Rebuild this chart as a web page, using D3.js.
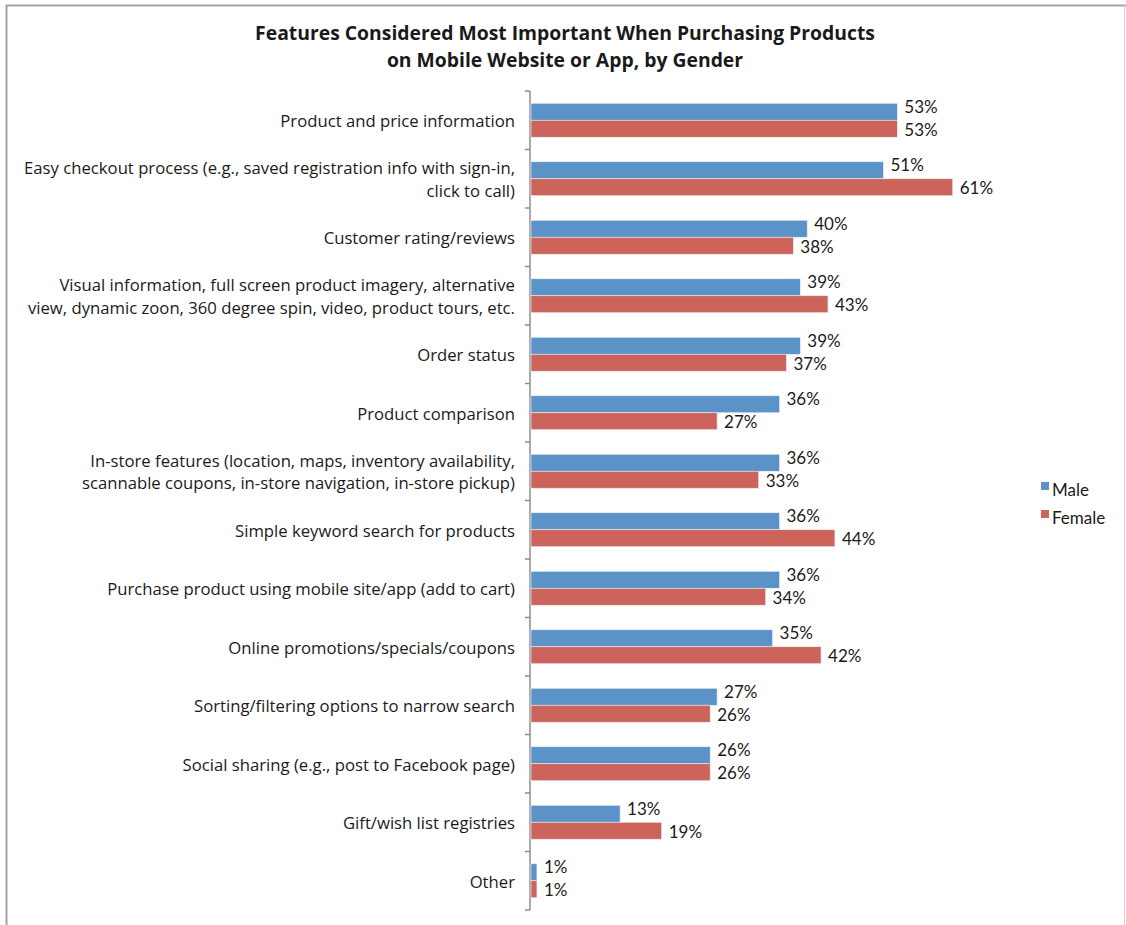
<!DOCTYPE html>
<html>
<head>
<meta charset="utf-8">
<script src="https://cdn.jsdelivr.net/npm/d3@7"></script>
<style>
  html, body { margin: 0; padding: 0; background: #fff; }
  svg { display: block; }
  text { font-family: "Open Sans", Lato, sans-serif; fill: #1a1a1a; }
</style>
</head>
<body>
<svg id="chart" width="1126" height="925"></svg>
<script>
// Survey: features rated most important when buying on mobile, split by gender (%)
const categories = [
  ["Product and price information"],
  ["Easy checkout process (e.g., saved registration info with sign-in,", "click to call)"],
  ["Customer rating/reviews"],
  ["Visual information, full screen product imagery, alternative", "view, dynamic zoon, 360 degree spin, video, product tours, etc."],
  ["Order status"],
  ["Product comparison"],
  ["In-store features (location, maps, inventory availability,", "scannable coupons, in-store navigation, in-store pickup)"],
  ["Simple keyword search for products"],
  ["Purchase product using mobile site/app (add to cart)"],
  ["Online promotions/specials/coupons"],
  ["Sorting/filtering options to narrow search"],
  ["Social sharing (e.g., post to Facebook page)"],
  ["Gift/wish list registries"],
  ["Other"]
];
const male   = [53, 51, 40, 39, 39, 36, 36, 36, 36, 35, 27, 26, 13, 1];
const female = [53, 61, 38, 43, 37, 27, 33, 44, 34, 42, 26, 26, 19, 1];
const seriesNames = ["Male", "Female"];
const seriesColors = ["#5b93c8", "#cd645c"];
const titleLines = [
  "Features Considered Most Important When Purchasing Products",
  "on Mobile Website or App, by Gender"
];

const svg = d3.select("#chart");

// shrink/grow a group of text nodes so its widest line spans `target` px
function fitWidth(sel, target, base) {
  let w = 0;
  sel.each(function () { w = Math.max(w, this.getComputedTextLength()); });
  if (w > 0) sel.style("font-size", (base * target / w).toFixed(2) + "px");
}

// outer frame
svg.append("path")
  .attr("d", "M6.5,925 V5.5 H1126")
  .attr("fill", "none").attr("stroke", "#a3a3a3").attr("stroke-width", 2);
svg.append("line")
  .attr("x1", 1124.5).attr("x2", 1124.5).attr("y1", 5).attr("y2", 925)
  .attr("stroke", "#d0d0d0").attr("stroke-width", 1);

// title
const title = svg.append("g").selectAll("text").data(titleLines).join("text")
  .attr("x", 565).attr("y", (d, i) => 40 + i * 27)
  .attr("text-anchor", "middle")
  .style("font-weight", "bold").style("font-size", "19px")
  .attr("textLength", null)
  .text(d => d);
fitWidth(title, 620, 19);

const x0 = 530;
const x = d3.scaleLinear().domain([0, 61]).range([x0, x0 + 61 * 6.93]);
const idx = d3.range(categories.length);
const y = d3.scaleBand().domain(idx).range([91, 910])
  .paddingInner(0.42).paddingOuter(0.21);
const half = y.bandwidth() / 2;

// axis line with tick marks at category boundaries
const axis = svg.append("g");
axis.append("line")
  .attr("x1", x0).attr("x2", x0).attr("y1", 91).attr("y2", 910)
  .attr("stroke", "#8c8c8c").attr("stroke-width", 1.5);
const bounds = d3.range(categories.length + 1).map(i => 91 + i * y.step());
axis.selectAll("line.tick").data(bounds).join("line")
  .attr("class", "tick")
  .attr("x1", x0 - 5).attr("x2", x0)
  .attr("y1", d => d).attr("y2", d => d)
  .attr("stroke", "#8c8c8c").attr("stroke-width", 1.5);

// category labels
const labels = svg.append("g");
categories.forEach((lines, i) => {
  const cy = y(i) + half + 1;
  const lh = 22.5;
  lines.forEach((ln, j) => {
    labels.append("text")
      .attr("x", 515)
      .attr("y", cy + (j - (lines.length - 1) / 2) * lh)
      .attr("dy", "0.35em")
      .attr("text-anchor", "end")
      .style("font-size", "16px")
      .text(ln);
  });
});
fitWidth(labels.selectAll("text"), 491, 16);

// bars with value labels
const series = [male, female];
series.forEach((vals, s) => {
  const g = svg.append("g");
  g.selectAll("rect").data(vals).join("rect")
    .attr("x", x0 + 1)
    .attr("y", (d, i) => y(i) + s * half)
    .attr("width", d => x(d) - x0 - 1)
    .attr("height", half)
    .attr("fill", seriesColors[s])
    .attr("stroke", "#e8eef5").attr("stroke-width", 0.6);
  g.selectAll("text").data(vals).join("text")
    .attr("x", d => x(d) + 7)
    .attr("y", (d, i) => y(i) + s * half + half / 2 + (s === 0 ? -5 : 1))
    .attr("dy", "0.35em")
    .style("font-family", "Lato, sans-serif")
    .style("font-size", "17px")
    .text(d => d + "%");
});

// legend
const legend = svg.append("g");
seriesNames.forEach((n, i) => {
  legend.append("rect")
    .attr("x", 1041).attr("y", 482 + i * 28).attr("width", 8).attr("height", 8)
    .attr("fill", seriesColors[i]);
  legend.append("text")
    .attr("x", 1052).attr("y", 490 + i * 28).attr("dy", "0.35em")
    .style("font-family", "Lato, sans-serif")
    .style("font-size", "17px")
    .text(n);
});
</script>
</body>
</html>
